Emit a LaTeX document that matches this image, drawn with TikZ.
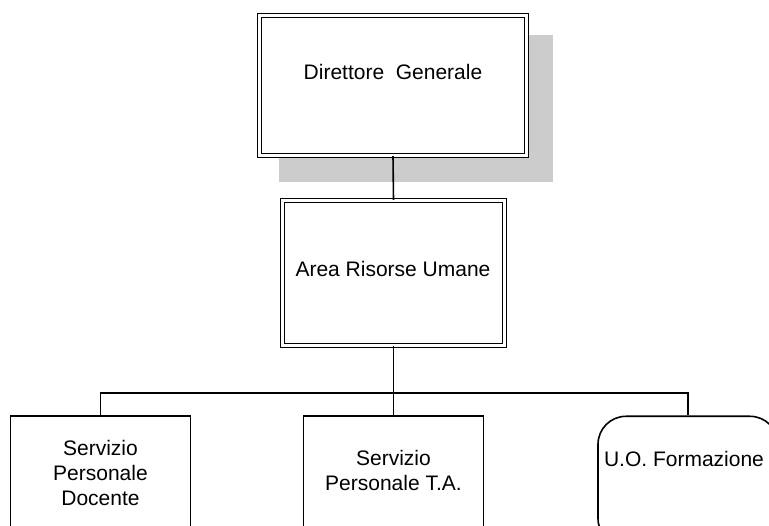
\documentclass[tikz,border=0pt]{standalone}
\usepackage{fontspec}
\setmainfont{Liberation Sans}
\begin{document}
\begin{tikzpicture}[x=1pt,y=-1pt,
  every node/.style={font=\fontsize{21}{25}\selectfont},
  headbox/.style={draw=black, double=white, line width=1.4pt,
    double distance=2.4pt, fill=white, inner sep=0pt},
  unitbox/.style={draw=black, line width=1.6pt, fill=white, inner sep=0pt,
    minimum width=180pt, minimum height=130pt, anchor=north},
  link/.style={draw=black, line width=1.6pt},
  caption/.style={inner sep=0pt, align=center}]
  \useasboundingbox (0,0) rectangle (769,526);
  \clip (0,0) rectangle (769,526);

  % drop shadow behind the top box
  \fill[black!20] (279,35) rectangle (553,182);

  % boxes
  \node[headbox, minimum width=266.8pt, minimum height=139.8pt] (dg) at (393,85.5) {};
  \node[headbox, minimum width=221.8pt, minimum height=144.8pt] (ar) at (393.5,273) {};
  \node[unitbox] (spd) at (100.5,415.5) {};
  \node[unitbox] (spta) at (393.5,415.5) {};
  \node[unitbox, rounded corners=28pt] (uof) at (688,415.5) {};

  % labels
  \node[caption, anchor=base] (dgt) at (393,80) {Direttore\ \ Generale};
  \node[caption, anchor=base] (art) at (393,277) {Area Risorse Umane};
  \node[caption, anchor=north] (spdt) at (100.5,440) {Servizio\\Personale\\Docente};
  \node[caption, anchor=north] (sptat) at (393.5,450) {Servizio\\Personale T.A.};
  \node[caption, anchor=base] (uoft) at (684,467) {U.O. Formazione};

  % connectors
  \coordinate (bus) at (393.5,393);
  \draw[link] (dg.south) -- (ar.north);
  \draw[link] (ar.south) -- (bus);
  \draw[link] (spd.north) |- (bus) -| (uof.north);
  \draw[link] (spta.north) -- (bus);
\end{tikzpicture}
\end{document}
